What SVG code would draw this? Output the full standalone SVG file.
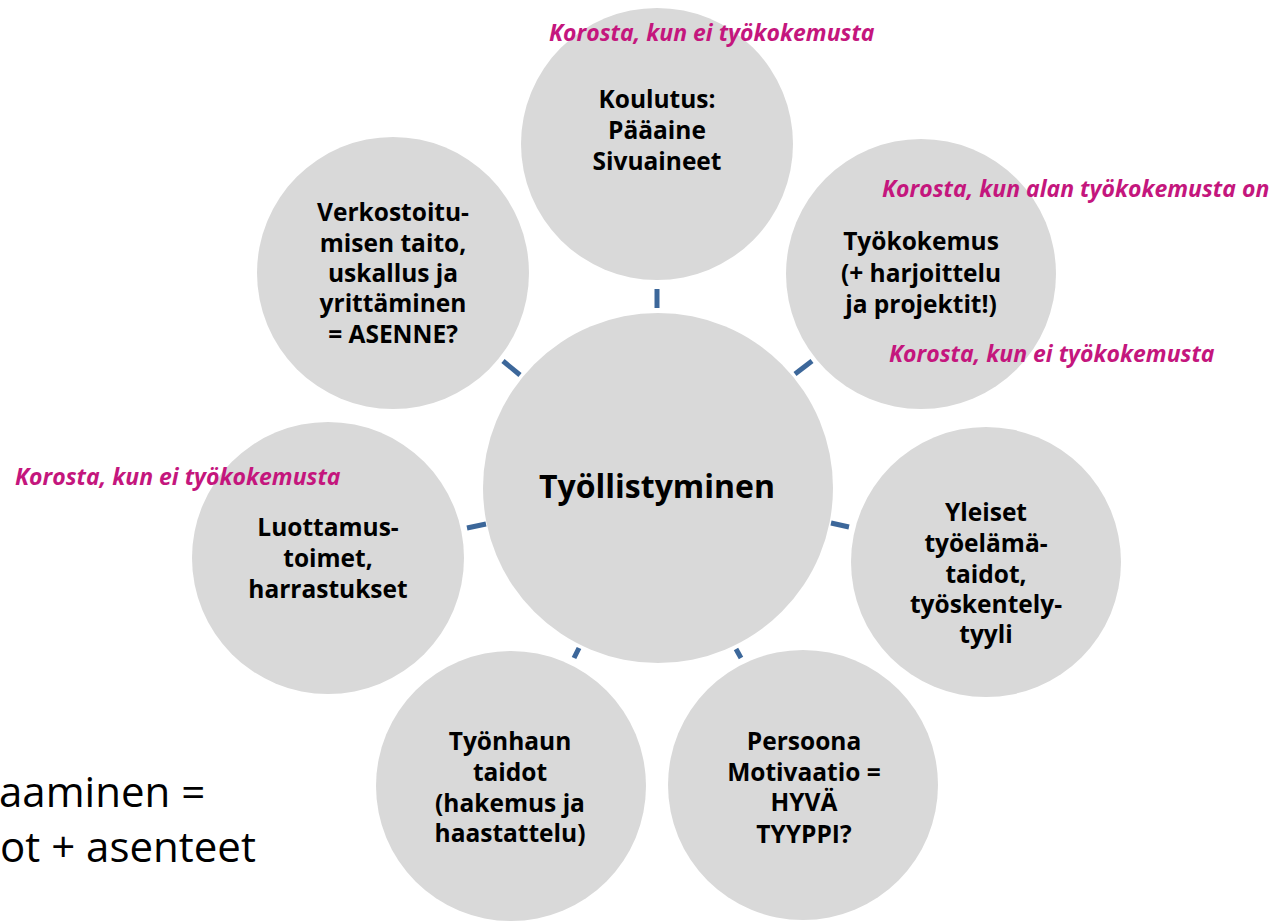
<svg xmlns="http://www.w3.org/2000/svg" width="1276" height="921" viewBox="0 0 1276 921">
<style>
.c{fill:#D9D9D9}
.t{font-family:"Open Sans",Lato,sans-serif;font-weight:700;font-size:24.5px;fill:#000;text-anchor:middle}
.m{font-family:"Open Sans",Lato,sans-serif;font-weight:700;font-size:32px;fill:#000;text-anchor:middle}
.p{font-family:"Open Sans","Noto Sans",sans-serif;font-weight:700;font-style:italic;font-size:23px;fill:#C4167D}
.l{font-family:"Open Sans","Noto Sans",sans-serif;font-size:42px;fill:#000}
.k{stroke:#3C679A;stroke-width:5;fill:none}
</style>
<rect width="1276" height="921" fill="#fff"/>
<g id="connectors">
<line class="k" x1="657" y1="289" x2="657" y2="308"/>
<line class="k" x1="795" y1="374" x2="812" y2="361"/>
<line class="k" x1="831" y1="523" x2="849" y2="527"/>
<line class="k" x1="736" y1="649" x2="741" y2="658"/>
<line class="k" x1="579" y1="648" x2="574" y2="658"/>
<line class="k" x1="467" y1="528" x2="486" y2="524"/>
<line class="k" x1="503" y1="361" x2="520" y2="375"/>
</g>
<g id="node-center">
<circle class="c" cx="658" cy="488" r="175"/>
<text class="m" x="657" y="498">Työllistyminen</text>
</g>
<g id="node-koulutus">
<circle class="c" cx="657" cy="144" r="136"/>
<text class="t" x="657" y="108">Koulutus:</text>
<text class="t" x="657" y="139">Pääaine</text>
<text class="t" x="657" y="170">Sivuaineet</text>
</g>
<g id="node-tyokokemus">
<circle class="c" cx="921" cy="274" r="135"/>
<text class="t" x="921" y="250">Työkokemus</text>
<text class="t" x="921" y="282">(+ harjoittelu</text>
<text class="t" x="921" y="313">ja projektit!)</text>
</g>
<g id="node-yleiset">
<circle class="c" cx="986" cy="562" r="135"/>
<text class="t" x="986" y="521">Yleiset</text>
<text class="t" x="986" y="552">työelämä-</text>
<text class="t" x="986" y="583">taidot,</text>
<text class="t" x="986" y="613">työskentely-</text>
<text class="t" x="986" y="643">tyyli</text>
</g>
<g id="node-persoona">
<circle class="c" cx="803" cy="785" r="135"/>
<text class="t" x="804" y="750">Persoona</text>
<text class="t" x="804" y="781">Motivaatio =</text>
<text class="t" x="804" y="811">HYVÄ</text>
<text class="t" x="804" y="843">TYYPPI?</text>
</g>
<g id="node-tyonhaun">
<circle class="c" cx="511" cy="786" r="135"/>
<text class="t" x="510" y="750">Työnhaun</text>
<text class="t" x="510" y="781">taidot</text>
<text class="t" x="510" y="812">(hakemus ja</text>
<text class="t" x="510" y="842">haastattelu)</text>
</g>
<g id="node-luottamus">
<circle class="c" cx="328" cy="558" r="136"/>
<text class="t" x="328" y="536">Luottamus-</text>
<text class="t" x="328" y="567">toimet,</text>
<text class="t" x="328" y="598">harrastukset</text>
</g>
<g id="node-verkostoitu">
<circle class="c" cx="393" cy="273" r="136"/>
<text class="t" x="393" y="221">Verkostoitu-</text>
<text class="t" x="393" y="252">misen taito,</text>
<text class="t" x="393" y="282">uskallus ja</text>
<text class="t" x="393" y="312">yrittäminen</text>
<text class="t" x="393" y="343">= ASENNE?</text>
</g>
<g id="notes">
<text class="p" x="549" y="41">Korosta, kun ei työkokemusta</text>
<text class="p" x="882" y="197">Korosta, kun alan työkokemusta on</text>
<text class="p" x="889" y="362">Korosta, kun ei työkokemusta</text>
<text class="p" x="15" y="485">Korosta, kun ei työkokemusta</text>
<text class="l" x="-1" y="807">aaminen =</text>
<text class="l" x="0" y="862">ot + asenteet</text>
</g>
</svg>
